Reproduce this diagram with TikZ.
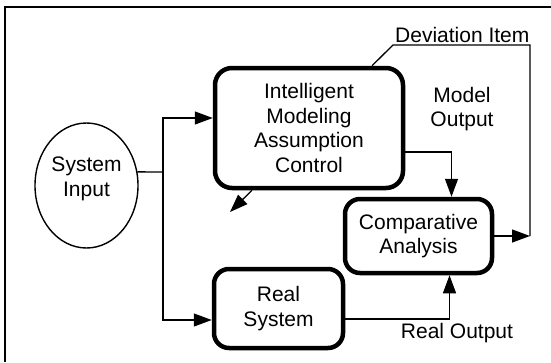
\documentclass[tikz,border=0pt]{standalone}
\usepackage{fontspec}
\setmainfont{Liberation Sans}
\usetikzlibrary{arrows.meta,shapes.geometric}

\begin{document}
\begin{tikzpicture}[x=1pt,y=-1pt,
		font=\fontsize{21}{24.5}\selectfont,
		block/.style={draw,line width=4.5pt,rounded corners=15pt,align=center,inner sep=0pt},
		ellip/.style={draw,ellipse,line width=1.4pt,align=center,inner sep=0pt},
		wire/.style={line width=1.3pt},
		arr/.style={wire,-{Triangle[length=18pt,width=13pt]}},
		lbl/.style={align=center,inner sep=0pt},
		frame/.style={line width=2pt}]
		\useasboundingbox (0,0) rectangle (551,362);
		\draw[frame] (551,7) -| (5,362);
	
		\node[ellip,minimum width=103pt,minimum height=125pt,text depth=18pt] (sysin) at (86.5,185.5) {System\\Input};
		
		\node[block,rounded corners=17pt,minimum width=188pt,minimum height=120pt] (imac) at (309,128) {Intelligent\\Modeling\\Assumption\\Control};
		\node[block,minimum width=147pt,minimum height=74pt] (comp) at (418.5,236) {Comparative\\Analysis};
		\node[block,minimum width=129pt,minimum height=79pt] (real) at (278.5,308.5) {Real\\System};
		
		\coordinate (split) at (163,172);
		\coordinate (fbk) at (530,236);
		\coordinate (devl) at (393,45);
		\coordinate (back) at (230,212);
		
		\draw[wire] (sysin.15) -- (split);
		\draw[arr] (split) |- ([yshift=10pt]imac.west);
		\draw[arr] (split) |- ([yshift=-11.5pt]real.west);
		
		\draw[arr] ([yshift=-24pt]imac.east) -| ([xshift=33pt]comp.north);
		\draw[arr] ([yshift=-10.5pt]real.east) -| ([xshift=31pt]comp.south);
		
		\draw[arr] (comp.east) -- (fbk);
		\draw[wire] (fbk) |- (devl) -- ([xshift=63pt]imac.north);
		\draw[arr] ([xshift=-57pt]imac.south) -- (back);
		
		\node[lbl,anchor=base west] (devlbl) at (395,42) {Deviation Item};
		\node[lbl] (modout) at (462,109) {Model\\Output};
		\node[lbl] (realout) at (457,333) {Real Output};
	\end{tikzpicture}
\end{document}
